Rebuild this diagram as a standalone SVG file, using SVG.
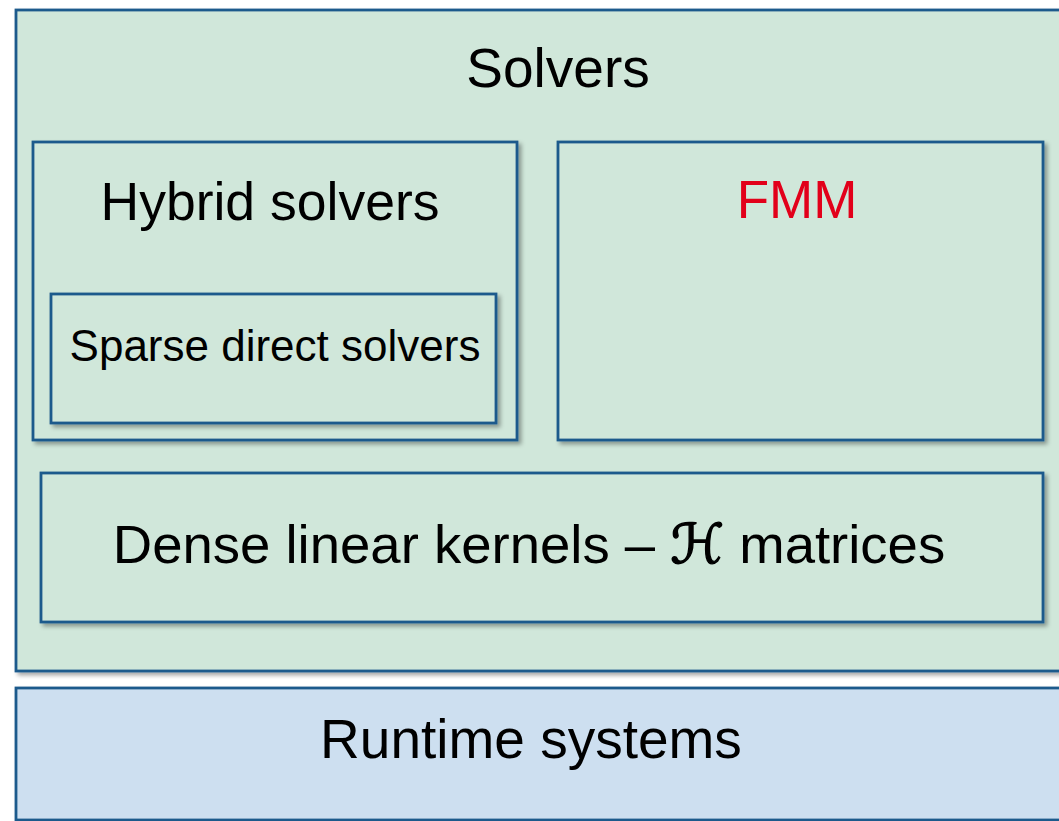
<svg xmlns="http://www.w3.org/2000/svg" width="1059" height="821" viewBox="0 0 1059 821">
  <defs>
    <filter id="sh" x="-5%" y="-5%" width="115%" height="115%">
      <feDropShadow dx="3" dy="3" stdDeviation="2" flood-color="#000" flood-opacity="0.35"/>
    </filter>
    <style>
      .box { fill: #d0e7da; stroke: #1f5a8c; stroke-width: 2.8; filter: url(#sh); }
      .rt { fill: #cddff0; stroke: #1f5a8c; stroke-width: 2.8; filter: url(#sh); }
      .t { font-family: "Liberation Sans", Arial, sans-serif; fill: #000; text-anchor: middle; }
      .h { font-family: "DejaVu Sans", serif; font-style: oblique; stroke: #000; stroke-width: 1.4; }
    </style>
  </defs>
  <rect width="1059" height="821" fill="#ffffff"/>
  <g id="solvers">
    <rect class="box" x="16" y="10" width="1060" height="661"/>
    <text class="t" x="558" y="87" font-size="55">Solvers</text>
  </g>
  <g id="hybrid">
    <rect class="box" x="33" y="142" width="484" height="298"/>
    <text class="t" x="270" y="220" font-size="53.5">Hybrid solvers</text>
  </g>
  <g id="sparse">
    <rect class="box" x="51" y="294" width="445" height="129"/>
    <text class="t" x="275" y="361" font-size="44">Sparse direct solvers</text>
  </g>
  <g id="fmm">
    <rect class="box" x="558" y="142" width="485" height="298"/>
    <text class="t" x="797" y="218" font-size="53" style="fill:#e2001a">FMM</text>
  </g>
  <g id="dense">
    <rect class="box" x="41" y="473" width="1002" height="149"/>
    <text class="t" x="529" y="563" font-size="54.5">Dense linear kernels – <tspan class="h">ℋ</tspan> matrices</text>
  </g>
  <g id="runtime">
    <rect class="rt" x="16" y="688" width="1060" height="132"/>
    <text class="t" x="531" y="758" font-size="55">Runtime systems</text>
  </g>
  <g id="connectors"></g>
</svg>
